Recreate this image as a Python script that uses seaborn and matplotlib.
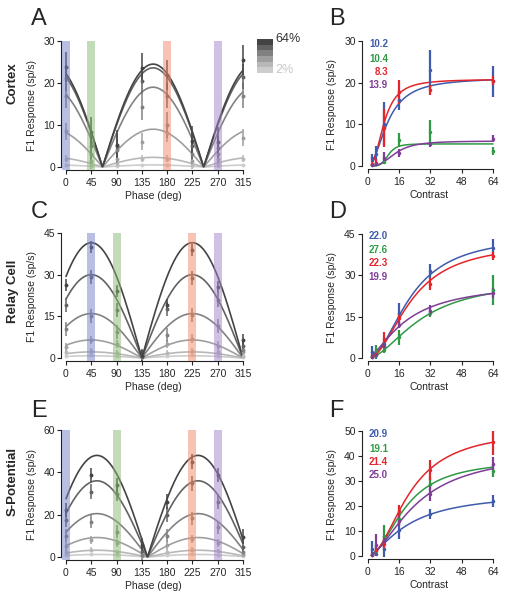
import numpy as np
import pandas as pd
import matplotlib
matplotlib.use("Agg")
import matplotlib.pyplot as plt
import seaborn as sns

W, H = 506, 600

phases = [0, 45, 90, 135, 180, 225, 270, 315]
contrasts = [2, 4, 8, 16, 32, 64]
grays = ['#cdcdcd', '#b8b8b8', '#9f9f9f', '#818181', '#626262', '#444444']

band_colors = ['#7480c6', '#86b972', '#f2876a', '#a085ca']
line_colors = ['#3f5bab', '#2f9a45', '#e3262b', '#7e3d97']

# ---- Cortex ----
cortex_peak = 155
cortex_amp = [0.5, 2.3, 9.0, 19.0, 23.6, 24.5]
cortex_mean = [
    [0.5, 0.3, 0.3, 0.5, 0.5, 0.3, 0.3, 0.5],
    [2.0, 0.5, 0.8, 2.0, 2.0, 0.5, 0.6, 2.0],
    [8.5, 1.5, 2.0, 6.0, 8.0, 1.5, 2.0, 7.0],
    [17.0, 3.0, 4.0, 14.3, 10.0, 3.0, 3.0, 17.0],
    [21.2, 5.0, 5.0, 20.5, 17.0, 5.0, 4.5, 21.5],
    [23.8, 8.3, 5.2, 23.6, 21.9, 6.2, 6.0, 25.5],
]
cortex_err = [0.3, 0.8, 2.0, 3.0, 3.0, 3.5]
cortex_bands = [0, 45, 180, 270]

# ---- Relay cell ----
relay_peak = 45
relay_amp = [0.8, 2.2, 6.5, 16.0, 30.0, 41.5]
relay_mean = [
    [0.8, 1.2, 0.8, 0.2, 0.6, 1.2, 0.8, 0.3],
    [2.0, 2.5, 1.8, 0.3, 1.8, 2.5, 2.0, 0.8],
    [4.0, 6.5, 5.0, 0.4, 5.0, 7.0, 4.5, 2.0],
    [10.5, 15.0, 9.5, 0.5, 8.3, 15.5, 11.5, 3.0],
    [19.0, 29.3, 17.3, 0.6, 17.5, 28.7, 21.0, 4.5],
    [26.3, 40.1, 24.0, 0.8, 19.1, 38.9, 25.5, 6.5],
]
relay_err = [0.5, 1.0, 1.5, 2.5, 2.5, 2.2]
relay_bands = [45, 90, 225, 270]

# ---- S-potential ----
spot_peak = 55
spot_amp = [1.2, 3.2, 9.2, 20.5, 36.0, 48.0]
spot_mean = [
    [1.0, 1.3, 1.0, 0.3, 0.8, 1.3, 1.0, 0.4],
    [2.5, 3.5, 2.5, 0.4, 2.5, 3.5, 3.0, 0.8],
    [5.0, 8.0, 6.5, 0.6, 5.5, 8.5, 6.5, 1.5],
    [10.0, 16.7, 12.0, 1.0, 10.0, 18.3, 14.0, 2.5],
    [17.5, 30.9, 30.0, 3.0, 20.0, 34.8, 26.0, 4.5],
    [22.2, 38.7, 34.0, 5.7, 26.1, 45.0, 38.7, 9.6],
]
spot_err = [0.5, 1.0, 2.0, 3.0, 3.5, 3.5]
spot_bands = [0, 90, 225, 270]

# ---- contrast response (blue, green, red, purple) ----
cortex_c50 = [10.2, 10.4, 8.3, 13.9]
cortex_rmax = [21.2, 5.3, 20.8, 6.0]
cortex_n = [2.0, 5.0, 2.5, 3.0]
cortex_cr_mean = [
    [1.9, 3.0, 10.2, 15.8, 23.0, 20.3],
    [0.3, 0.4, 1.0, 6.3, 8.2, 3.6],
    [0.4, 0.8, 9.2, 17.8, 18.2, 20.5],
    [0.3, 0.5, 2.0, 3.2, 5.2, 6.6],
]
cortex_cr_err = [
    [1.0, 1.8, 5.2, 2.4, 4.8, 3.7],
    [0.4, 0.5, 0.6, 1.7, 2.8, 1.0],
    [0.4, 0.8, 4.6, 2.8, 1.2, 1.0],
    [0.3, 0.4, 1.4, 1.0, 0.6, 0.8],
]

relay_c50 = [22.0, 27.6, 22.3, 19.9]
relay_rmax = [44.7, 28.7, 42.0, 27.5]
relay_n = [2.0, 1.8, 2.0, 1.5]
relay_cr_mean = [
    [2.0, 1.5, 5.0, 16.2, 31.5, 40.0],
    [0.5, 2.4, 3.0, 7.5, 16.5, 24.7],
    [0.5, 1.5, 6.9, 14.5, 26.8, 37.0],
    [0.4, 1.2, 4.5, 12.0, 17.2, 23.5],
]
relay_cr_err = [
    [2.5, 2.0, 1.0, 3.6, 2.6, 3.3],
    [0.5, 2.4, 1.2, 2.7, 1.5, 5.4],
    [0.5, 1.0, 2.7, 2.0, 2.1, 1.5],
    [0.4, 1.0, 1.0, 1.2, 2.1, 1.8],
]

spot_c50 = [20.9, 19.1, 21.4, 25.0]
spot_rmax = [25.5, 38.7, 50.6, 42.0]
spot_n = [1.5, 2.0, 2.0, 1.7]
spot_cr_mean = [
    [3.0, 1.0, 3.0, 10.5, 17.0, 22.0],
    [0.5, 2.0, 8.0, 15.0, 29.0, 34.0],
    [0.5, 2.5, 5.0, 18.0, 34.5, 45.6],
    [0.5, 4.5, 6.0, 14.0, 25.0, 37.0],
]
spot_cr_err = [
    [3.0, 1.0, 3.2, 3.5, 2.0, 2.3],
    [0.5, 1.5, 4.4, 2.5, 2.5, 2.4],
    [0.5, 2.0, 2.0, 2.3, 4.0, 5.2],
    [0.5, 4.5, 2.0, 2.0, 3.0, 2.5],
]

sns.set_style("ticks")
plt.rcParams['font.family'] = ['Liberation Sans', 'DejaVu Sans']
plt.rcParams['axes.linewidth'] = 0.8
plt.rcParams['axes.edgecolor'] = '#222222'

fig = plt.figure(figsize=(W / 100, H / 100), dpi=100)


def make_ax(xpx0, xpxmax, xmax, xlo, xhi, ypx0, ypxmax, ymax, ybot):
    sx = (xpxmax - xpx0) / xmax
    sy = (ypx0 - ypxmax) / ymax
    ax = fig.add_axes([xlo / W, 1 - ybot / H, (xhi - xlo) / W, (ybot - ypxmax) / H])
    ax.set_xlim((xlo - xpx0) / sx, (xhi - xpx0) / sx)
    ax.set_ylim(-(ybot - ypx0) / sy, ymax)
    for s in ['top', 'right']:
        ax.spines[s].set_visible(False)
    ax.spines['left'].set_bounds(0, ymax)
    ax.spines['bottom'].set_bounds(0, xmax)
    ax.tick_params(length=3, width=0.8, labelsize=7.5, pad=1.5, color='#222222')
    ax.tick_params(axis='x', pad=3)
    return ax


def phase_panel(ax, peak, amps, means, errs, bands, ymax, ystep):
    ph = np.linspace(0, 315, 400)
    rows = []
    for c, a in zip(contrasts, amps):
        rows.append(pd.DataFrame({'phase': ph,
                                  'resp': a * np.abs(np.cos(np.deg2rad(ph - peak))),
                                  'contrast': c}))
    df = pd.concat(rows)
    sns.lineplot(data=df, x='phase', y='resp', hue='contrast',
                 palette=dict(zip(contrasts, grays)), legend=False, ax=ax,
                 lw=1.2, zorder=2)
    for i, c in enumerate(contrasts):
        ax.errorbar(phases, means[i], yerr=errs[i], fmt='o', ms=1.8, color=grays[i],
                    elinewidth=1.1, capsize=0, zorder=3)
    for b, col in zip(bands, band_colors):
        ax.axvspan(b - 7, b + 7, color=col, alpha=0.5, lw=0, zorder=4)
    ax.set_xticks(phases)
    ax.set_yticks(np.arange(0, ymax + 1, ystep))
    ax.set_xlabel('Phase (deg)', fontsize=7.5, labelpad=2)
    ax.set_ylabel('F1 Response (sp/s)', fontsize=7.5, labelpad=5)


def contrast_panel(ax, c50s, rmaxs, ns, means, errs, ymax, ystep):
    cc = np.linspace(2, 64, 300)
    rows = []
    for k in range(4):
        r = rmaxs[k] * cc ** ns[k] / (cc ** ns[k] + c50s[k] ** ns[k])
        rows.append(pd.DataFrame({'contrast': cc, 'resp': r, 'phase': k}))
    df = pd.concat(rows)
    sns.lineplot(data=df, x='contrast', y='resp', hue='phase',
                 palette=dict(zip(range(4), line_colors)), legend=False, ax=ax,
                 lw=1.1, zorder=2)
    for k in range(4):
        ax.errorbar(contrasts, means[k], yerr=errs[k], fmt='o', ms=1.5,
                    color=line_colors[k], elinewidth=1.6, capsize=0, zorder=3)
    ax.set_xticks([0, 16, 32, 48, 64])
    ax.set_yticks(np.arange(0, ymax + 1, ystep))
    ax.set_xlabel('Contrast', fontsize=7.5, labelpad=2)
    ax.set_ylabel('F1 Response (sp/s)', fontsize=7.5, labelpad=5)


axA = make_ax(66, 243, 315, 61.5, 246, 167, 41, 30, 170)
phase_panel(axA, cortex_peak, cortex_amp, cortex_mean, cortex_err, cortex_bands, 30, 10)
axC = make_ax(66, 243, 315, 61.5, 246, 358, 233, 45, 361)
phase_panel(axC, relay_peak, relay_amp, relay_mean, relay_err, relay_bands, 45, 15)
axE = make_ax(66, 243, 315, 61.5, 246, 557, 430, 60, 560)
phase_panel(axE, spot_peak, spot_amp, spot_mean, spot_err, spot_bands, 60, 20)

axB = make_ax(368, 493, 64, 362, 497, 166, 41, 30, 169)
contrast_panel(axB, cortex_c50, cortex_rmax, cortex_n, cortex_cr_mean, cortex_cr_err, 30, 10)
axD = make_ax(368, 493, 64, 362, 497, 358, 234, 45, 361)
contrast_panel(axD, relay_c50, relay_rmax, relay_n, relay_cr_mean, relay_cr_err, 45, 15)
axF = make_ax(368, 493, 64, 362, 497, 556, 431, 50, 559)
contrast_panel(axF, spot_c50, spot_rmax, spot_n, spot_cr_mean, spot_cr_err, 50, 10)

# c50 labels
for c50s, ys in [(cortex_c50, [44, 59, 72, 85]),
                 (relay_c50, [236, 250, 263, 277]),
                 (spot_c50, [434, 449, 462, 475])]:
    for v, y, col in zip(c50s, ys, line_colors):
        fig.text(388 / W, 1 - y / H, f'{v:.1f}', color=col, fontsize=7,
                 fontweight='bold', ha='right', va='center')

# contrast gradient key
axK = fig.add_axes([257 / W, 1 - 73 / H, 16 / W, 34 / H])
axK.imshow(np.arange(6)[::-1].reshape(-1, 1), cmap=matplotlib.colors.ListedColormap(grays),
           aspect='auto', interpolation='nearest')
axK.axis('off')
fig.text(275 / W, 1 - 39 / H, '64%', fontsize=9, color='#333333', va='center')
fig.text(275 / W, 1 - 70 / H, '2%', fontsize=9, color='#c8c8c8', va='center')

# panel letters
for lab, x, y in [('A', 31, 25), ('B', 329, 25), ('C', 31, 218),
                  ('D', 329, 218), ('E', 31, 417), ('F', 329, 417)]:
    fig.text(x / W, 1 - y / H, lab, fontsize=17, va='baseline')

# row labels
for lab, y in [('Cortex', 83), ('Relay Cell', 291), ('S-Potential', 481)]:
    fig.text(13 / W, 1 - y / H, lab, fontsize=9.5, fontweight='bold',
             rotation=90, ha='center', va='center')

fig.savefig('out.png', dpi=100)
